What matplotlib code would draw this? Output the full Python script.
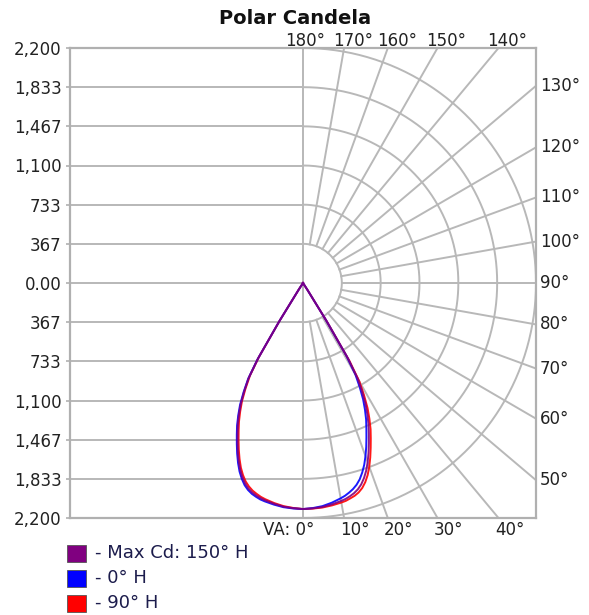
import numpy as np
import matplotlib
matplotlib.use('Agg')
import matplotlib.pyplot as plt
from matplotlib.patches import Rectangle

# vertical angles (deg) and candela values
va_angles = [0, 2.5, 5, 7.5, 10, 11.25, 12.5, 13.75, 15, 16.25, 17.5, 18.75, 20, 21.25,
             22.5, 23.75, 25, 26.25, 27.5, 28.75, 30, 31, 32, 33, 34, 90, 180]
# right half planes
cd_150 = [2116, 2112, 2105, 2090, 2072, 2061, 2045, 2026, 2000, 1964, 1915, 1856, 1785, 1707,
          1625, 1544, 1465, 1375, 1280, 1160, 1030, 830, 420, 80, 0, 0, 0]
cd_0 = [2116, 2109, 2097, 2075, 2047, 2031, 2010, 1986, 1955, 1914, 1860, 1798, 1725, 1647,
        1565, 1486, 1410, 1323, 1230, 1115, 990, 800, 405, 75, 0, 0, 0]
cd_90 = [2116, 2114, 2110, 2100, 2087, 2079, 2065, 2051, 2030, 1999, 1955, 1899, 1830, 1752,
         1670, 1589, 1510, 1418, 1320, 1198, 1065, 855, 435, 85, 0, 0, 0]
# left half (opposite planes)
cd_330 = [2116, 2110, 2102, 2085, 2066, 2054, 2038, 2018, 1992, 1955, 1905, 1846, 1775, 1697,
          1615, 1534, 1455, 1365, 1270, 1152, 1025, 825, 415, 80, 0, 0, 0]
cd_180 = [2116, 2113, 2107, 2093, 2076, 2066, 2050, 2032, 2006, 1971, 1922, 1864, 1793, 1715,
          1633, 1552, 1473, 1383, 1288, 1167, 1036, 835, 422, 80, 0, 0, 0]
cd_270 = [2116, 2108, 2097, 2078, 2055, 2041, 2022, 2001, 1972, 1935, 1885, 1825, 1752, 1673,
          1590, 1509, 1430, 1341, 1248, 1130, 1002, 808, 408, 78, 0, 0, 0]

legend_labels = ['- Max Cd: 150\u00b0 H', '- 0\u00b0 H', '- 90\u00b0 H']
series_colors = ['#800080', '#0000ff', '#ff0000']

ytick_labels = ['2,200', '1,833', '1,467', '1,100', '733', '367', '0.00',
                '367', '733', '1,100', '1,467', '1,833', '2,200']
top_angles = [180, 170, 160, 150, 140]
right_angles = [130, 120, 110, 100, 90, 80, 70, 60, 50]
bottom_angles = [10, 20, 30, 40]
max_cd = 2200.0

grid_col = '#b8b8b8'
text_col = '#222222'
plt.rcParams['font.family'] = 'DejaVu Sans'

fig = plt.figure(figsize=(5.89, 6.15), dpi=100)
ax = fig.add_axes([70 / 589., 97 / 615., 466 / 589., 470 / 615.])
ax.set_xlim(-max_cd, max_cd)
ax.set_ylim(-max_cd, max_cd)

ring = max_cd / 6.
ylev = np.linspace(max_cd, -max_cd, 13)

# left half: plain horizontal lines
for yv in ylev[1:-1]:
    ax.plot([-max_cd, 0], [yv, yv], color=grid_col, lw=1.4, zorder=1)
# centre vertical line
ax.plot([0, 0], [-max_cd, max_cd], color=grid_col, lw=1.4, zorder=1)

# right half: polar rings and spokes
t = np.radians(np.linspace(0, 180, 181))
for k in range(1, 7):
    r = k * ring
    ax.plot(r * np.sin(t), -r * np.cos(t), color=grid_col, lw=1.4, zorder=1)
for a in range(10, 180, 10):
    ar = np.radians(a)
    ax.plot([ring * np.sin(ar), 5000 * np.sin(ar)],
            [-ring * np.cos(ar), -5000 * np.cos(ar)],
            color=grid_col, lw=1.4, zorder=1)

# the three candela curves (opposite plane mirrored onto the left half)
th = np.radians(np.array(va_angles))
curves = [(cd_270, cd_90, series_colors[2]),
          (cd_180, cd_0, series_colors[1]),
          (cd_330, cd_150, series_colors[0])]
for left, right, col in curves:
    left = np.array(left, dtype=float)
    right = np.array(right, dtype=float)
    xl = -left * np.sin(th)
    yl = -left * np.cos(th)
    xr = right * np.sin(th)
    yr = -right * np.cos(th)
    x = np.concatenate([xl[::-1], xr[1:]])
    y = np.concatenate([yl[::-1], yr[1:]])
    ax.plot(x, y, color=col, lw=1.4, zorder=3, alpha=0.9,
            solid_joinstyle='round')

for s in ax.spines.values():
    s.set_color('#b0b0b0')
    s.set_linewidth(1.6)
ax.set_xticks([])
ax.set_yticks(ylev)
ax.set_yticklabels(ytick_labels)
ax.tick_params(axis='y', length=3, width=1.2, color='#b0b0b0',
               labelsize=12, labelcolor=text_col, pad=3)

# angle labels round the box
px = max_cd / 233.
for a in top_angles:
    xi = max_cd * np.tan(np.radians(180 - a))
    off = 2 * px if a == 180 else 9 * px
    ax.text(xi + off, max_cd + 7 * px, '%d\u00b0' % a, ha='center', va='center',
            fontsize=12, color=text_col, clip_on=False)
for a in right_angles:
    yi = max_cd * np.tan(np.radians(a - 90))
    ax.text(max_cd + 4 * px, yi, '%d\u00b0' % a, ha='left', va='center',
            fontsize=12, color=text_col, clip_on=False)
ax.text(11 * px, -max_cd - 12 * px, 'VA: 0\u00b0', ha='right', va='center',
        fontsize=12, color=text_col, clip_on=False)
for a in bottom_angles:
    xi = max_cd * np.tan(np.radians(a))
    ax.text(xi + 11 * px, -max_cd - 12 * px, '%d\u00b0' % a, ha='center',
            va='center', fontsize=12, color=text_col, clip_on=False)

fig.text(295 / 589., 1 - 19 / 615., 'Polar Candela', ha='center', va='center',
         fontsize=14, fontweight='bold', color='#111111')

# legend boxes under the plot
for i, (lab, col) in enumerate(zip(legend_labels, series_colors)):
    yc = 553 + 25 * i
    fig.add_artist(Rectangle((67 / 589., 1 - (yc + 8.5) / 615.), 19 / 589., 17 / 615.,
                             transform=fig.transFigure, facecolor=col,
                             edgecolor='#555555', lw=0.6))
    fig.text(95 / 589., 1 - yc / 615., lab, ha='left', va='center',
             fontsize=13, color='#1c1c4c')

fig.savefig('out.png', dpi=100)
